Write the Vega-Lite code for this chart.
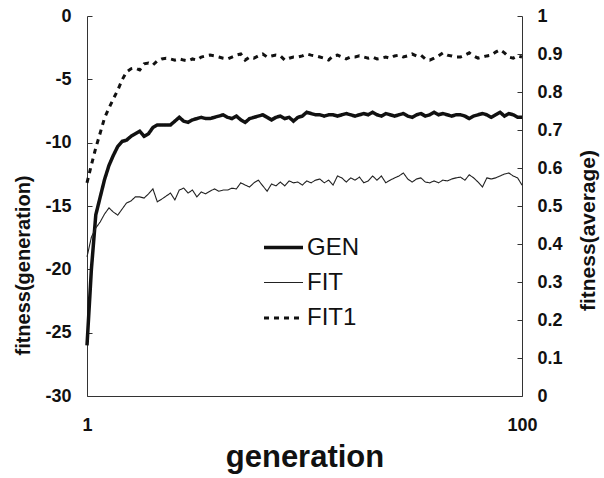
{
 "$schema": "https://vega.github.io/schema/vega-lite/v6.json",
 "width": 435,
 "height": 380,
 "autosize": {"type": "none"},
 "padding": {"left": 87, "top": 16, "right": 82, "bottom": 82},
 "background": "white",
 "config": {
  "font": "Liberation Sans",
  "view": {"stroke": null},
  "axis": {"labelFont": "Liberation Sans", "labelFontWeight": "bold", "labelFontSize": 18, "labelColor": "#111", "titleFont": "Liberation Sans", "titleFontWeight": "bold", "titleColor": "#111", "domainColor": "#333", "tickColor": "#333", "grid": false}
 },
 "data": {"values": [
  {"g":1,"GEN":-26.0,"FIT":0.366,"FIT1":0.561},
  {"g":2,"GEN":-20.0,"FIT":0.418,"FIT1":0.608},
  {"g":3,"GEN":-15.7,"FIT":0.442,"FIT1":0.653},
  {"g":4,"GEN":-14.3,"FIT":0.458,"FIT1":0.692},
  {"g":5,"GEN":-12.9,"FIT":0.479,"FIT1":0.732},
  {"g":6,"GEN":-11.8,"FIT":0.495,"FIT1":0.758},
  {"g":7,"GEN":-11.0,"FIT":0.484,"FIT1":0.782},
  {"g":8,"GEN":-10.3,"FIT":0.476,"FIT1":0.805},
  {"g":9,"GEN":-9.9,"FIT":0.492,"FIT1":0.832},
  {"g":10,"GEN":-9.8,"FIT":0.508,"FIT1":0.853},
  {"g":11,"GEN":-9.5,"FIT":0.513,"FIT1":0.861},
  {"g":12,"GEN":-9.3,"FIT":0.524,"FIT1":0.863},
  {"g":13,"GEN":-9.1,"FIT":0.524,"FIT1":0.858},
  {"g":14,"GEN":-9.5,"FIT":0.521,"FIT1":0.874},
  {"g":15,"GEN":-9.3,"FIT":0.532,"FIT1":0.876},
  {"g":16,"GEN":-8.8,"FIT":0.545,"FIT1":0.871},
  {"g":17,"GEN":-8.6,"FIT":0.511,"FIT1":0.882},
  {"g":18,"GEN":-8.6,"FIT":0.518,"FIT1":0.887},
  {"g":19,"GEN":-8.6,"FIT":0.526,"FIT1":0.889},
  {"g":20,"GEN":-8.6,"FIT":0.534,"FIT1":0.887},
  {"g":21,"GEN":-8.3,"FIT":0.516,"FIT1":0.884},
  {"g":22,"GEN":-8.0,"FIT":0.542,"FIT1":0.887},
  {"g":23,"GEN":-8.3,"FIT":0.547,"FIT1":0.884},
  {"g":24,"GEN":-8.4,"FIT":0.534,"FIT1":0.882},
  {"g":25,"GEN":-8.2,"FIT":0.542,"FIT1":0.887},
  {"g":26,"GEN":-8.1,"FIT":0.524,"FIT1":0.884},
  {"g":27,"GEN":-8.0,"FIT":0.537,"FIT1":0.892},
  {"g":28,"GEN":-8.1,"FIT":0.532,"FIT1":0.895},
  {"g":29,"GEN":-8.1,"FIT":0.539,"FIT1":0.897},
  {"g":30,"GEN":-8.0,"FIT":0.545,"FIT1":0.895},
  {"g":31,"GEN":-7.9,"FIT":0.539,"FIT1":0.892},
  {"g":32,"GEN":-7.8,"FIT":0.542,"FIT1":0.889},
  {"g":33,"GEN":-8.0,"FIT":0.542,"FIT1":0.887},
  {"g":34,"GEN":-8.1,"FIT":0.547,"FIT1":0.892},
  {"g":35,"GEN":-7.9,"FIT":0.545,"FIT1":0.897},
  {"g":36,"GEN":-8.2,"FIT":0.561,"FIT1":0.900},
  {"g":37,"GEN":-8.4,"FIT":0.555,"FIT1":0.884},
  {"g":38,"GEN":-8.1,"FIT":0.550,"FIT1":0.892},
  {"g":39,"GEN":-8.0,"FIT":0.561,"FIT1":0.889},
  {"g":40,"GEN":-7.9,"FIT":0.568,"FIT1":0.895},
  {"g":41,"GEN":-7.8,"FIT":0.553,"FIT1":0.900},
  {"g":42,"GEN":-8.0,"FIT":0.539,"FIT1":0.892},
  {"g":43,"GEN":-8.2,"FIT":0.558,"FIT1":0.895},
  {"g":44,"GEN":-8.0,"FIT":0.553,"FIT1":0.897},
  {"g":45,"GEN":-7.9,"FIT":0.563,"FIT1":0.895},
  {"g":46,"GEN":-8.1,"FIT":0.553,"FIT1":0.884},
  {"g":47,"GEN":-8.0,"FIT":0.566,"FIT1":0.889},
  {"g":48,"GEN":-8.3,"FIT":0.561,"FIT1":0.892},
  {"g":49,"GEN":-8.0,"FIT":0.563,"FIT1":0.892},
  {"g":50,"GEN":-7.9,"FIT":0.555,"FIT1":0.895},
  {"g":51,"GEN":-7.6,"FIT":0.566,"FIT1":0.900},
  {"g":52,"GEN":-7.7,"FIT":0.561,"FIT1":0.897},
  {"g":53,"GEN":-7.8,"FIT":0.568,"FIT1":0.895},
  {"g":54,"GEN":-7.8,"FIT":0.571,"FIT1":0.892},
  {"g":55,"GEN":-7.9,"FIT":0.561,"FIT1":0.889},
  {"g":56,"GEN":-7.8,"FIT":0.568,"FIT1":0.884},
  {"g":57,"GEN":-7.8,"FIT":0.555,"FIT1":0.895},
  {"g":58,"GEN":-7.9,"FIT":0.579,"FIT1":0.897},
  {"g":59,"GEN":-7.8,"FIT":0.574,"FIT1":0.892},
  {"g":60,"GEN":-7.7,"FIT":0.563,"FIT1":0.887},
  {"g":61,"GEN":-7.8,"FIT":0.574,"FIT1":0.892},
  {"g":62,"GEN":-7.9,"FIT":0.568,"FIT1":0.892},
  {"g":63,"GEN":-7.8,"FIT":0.576,"FIT1":0.895},
  {"g":64,"GEN":-7.7,"FIT":0.561,"FIT1":0.892},
  {"g":65,"GEN":-7.8,"FIT":0.566,"FIT1":0.889},
  {"g":66,"GEN":-7.6,"FIT":0.579,"FIT1":0.892},
  {"g":67,"GEN":-7.8,"FIT":0.568,"FIT1":0.887},
  {"g":68,"GEN":-7.9,"FIT":0.579,"FIT1":0.889},
  {"g":69,"GEN":-7.7,"FIT":0.561,"FIT1":0.892},
  {"g":70,"GEN":-7.8,"FIT":0.568,"FIT1":0.889},
  {"g":71,"GEN":-7.9,"FIT":0.574,"FIT1":0.895},
  {"g":72,"GEN":-7.8,"FIT":0.579,"FIT1":0.897},
  {"g":73,"GEN":-7.7,"FIT":0.587,"FIT1":0.892},
  {"g":74,"GEN":-7.9,"FIT":0.571,"FIT1":0.895},
  {"g":75,"GEN":-8.0,"FIT":0.563,"FIT1":0.900},
  {"g":76,"GEN":-7.8,"FIT":0.571,"FIT1":0.895},
  {"g":77,"GEN":-7.7,"FIT":0.574,"FIT1":0.897},
  {"g":78,"GEN":-7.9,"FIT":0.563,"FIT1":0.887},
  {"g":79,"GEN":-7.8,"FIT":0.561,"FIT1":0.884},
  {"g":80,"GEN":-7.6,"FIT":0.566,"FIT1":0.889},
  {"g":81,"GEN":-7.8,"FIT":0.561,"FIT1":0.895},
  {"g":82,"GEN":-7.7,"FIT":0.568,"FIT1":0.903},
  {"g":83,"GEN":-7.8,"FIT":0.566,"FIT1":0.897},
  {"g":84,"GEN":-7.9,"FIT":0.571,"FIT1":0.895},
  {"g":85,"GEN":-7.8,"FIT":0.574,"FIT1":0.892},
  {"g":86,"GEN":-7.8,"FIT":0.576,"FIT1":0.892},
  {"g":87,"GEN":-7.9,"FIT":0.568,"FIT1":0.897},
  {"g":88,"GEN":-8.1,"FIT":0.582,"FIT1":0.903},
  {"g":89,"GEN":-7.9,"FIT":0.574,"FIT1":0.895},
  {"g":90,"GEN":-7.8,"FIT":0.563,"FIT1":0.889},
  {"g":91,"GEN":-7.7,"FIT":0.550,"FIT1":0.892},
  {"g":92,"GEN":-7.8,"FIT":0.574,"FIT1":0.895},
  {"g":93,"GEN":-8.0,"FIT":0.571,"FIT1":0.897},
  {"g":94,"GEN":-7.8,"FIT":0.574,"FIT1":0.905},
  {"g":95,"GEN":-7.6,"FIT":0.579,"FIT1":0.911},
  {"g":96,"GEN":-7.9,"FIT":0.584,"FIT1":0.903},
  {"g":97,"GEN":-7.7,"FIT":0.587,"FIT1":0.892},
  {"g":98,"GEN":-7.8,"FIT":0.579,"FIT1":0.889},
  {"g":99,"GEN":-8.0,"FIT":0.574,"FIT1":0.895},
  {"g":100,"GEN":-8.0,"FIT":0.555,"FIT1":0.892}
 ]},
 "encoding": {
  "x": {"field": "g", "type": "quantitative",
   "scale": {"domain": [1, 100], "nice": false, "zero": false},
   "axis": {"values": [1, 100], "title": "generation", "titleFontSize": 31, "labelPadding": 20, "ticks": false, "labelFlush": false, "titleY": 70, "titleBaseline": "alphabetic"}},
  "color": {"field": "series", "type": "nominal",
   "scale": {"domain": ["GEN", "FIT", "FIT1"], "range": ["#111111", "#222222", "#111111"]},
   "legend": {"orient": "none", "legendX": 175, "legendY": 210, "title": null, "symbolType": "stroke", "symbolSize": 1521, "labelFontSize": 24, "labelFont": "Liberation Sans", "labelColor": "#111", "labelOffset": 2, "rowPadding": 2}},
  "strokeDash": {"field": "series", "type": "nominal",
   "scale": {"type": "ordinal", "domain": ["GEN", "FIT", "FIT1"], "range": [[1, 0], [1, 0], [5, 5]]}},
  "strokeWidth": {"field": "series", "type": "nominal",
   "scale": {"type": "ordinal", "domain": ["GEN", "FIT", "FIT1"], "range": [3.5, 1.1, 3]}}
 },
 "layer": [
  {
   "transform": [{"fold": ["GEN"], "as": ["series", "value"]}],
   "mark": {"type": "line"},
   "encoding": {
    "y": {"field": "value", "type": "quantitative",
     "scale": {"domain": [-30, 0], "nice": false, "zero": false},
     "axis": {"orient": "left", "values": [-30, -25, -20, -15, -10, -5, 0], "labelExpr": "'' + datum.value", "tickSize": -5, "labelPadding": 21, "title": "fitness(generation)", "titleFontSize": 20, "titleAngle": -90, "titleX": -64, "titleY": 249, "titleBaseline": "middle", "titleAlign": "center"}}
   }
  },
  {
   "transform": [{"fold": ["FIT", "FIT1"], "as": ["series", "value"]}],
   "mark": {"type": "line"},
   "encoding": {
    "y": {"field": "value", "type": "quantitative",
     "scale": {"domain": [0, 1], "nice": false},
     "axis": {"orient": "right", "values": [0, 0.1, 0.2, 0.3, 0.4, 0.5, 0.6, 0.7, 0.8, 0.9, 1], "format": "~g", "tickSize": -5, "labelPadding": 20, "title": "fitness(average)", "titleFontSize": 21, "titleAngle": -90, "titleX": 66, "titleY": 214, "titleBaseline": "middle", "titleAlign": "center"}}
   }
  }
 ],
 "resolve": {"scale": {"y": "independent"}}
}
